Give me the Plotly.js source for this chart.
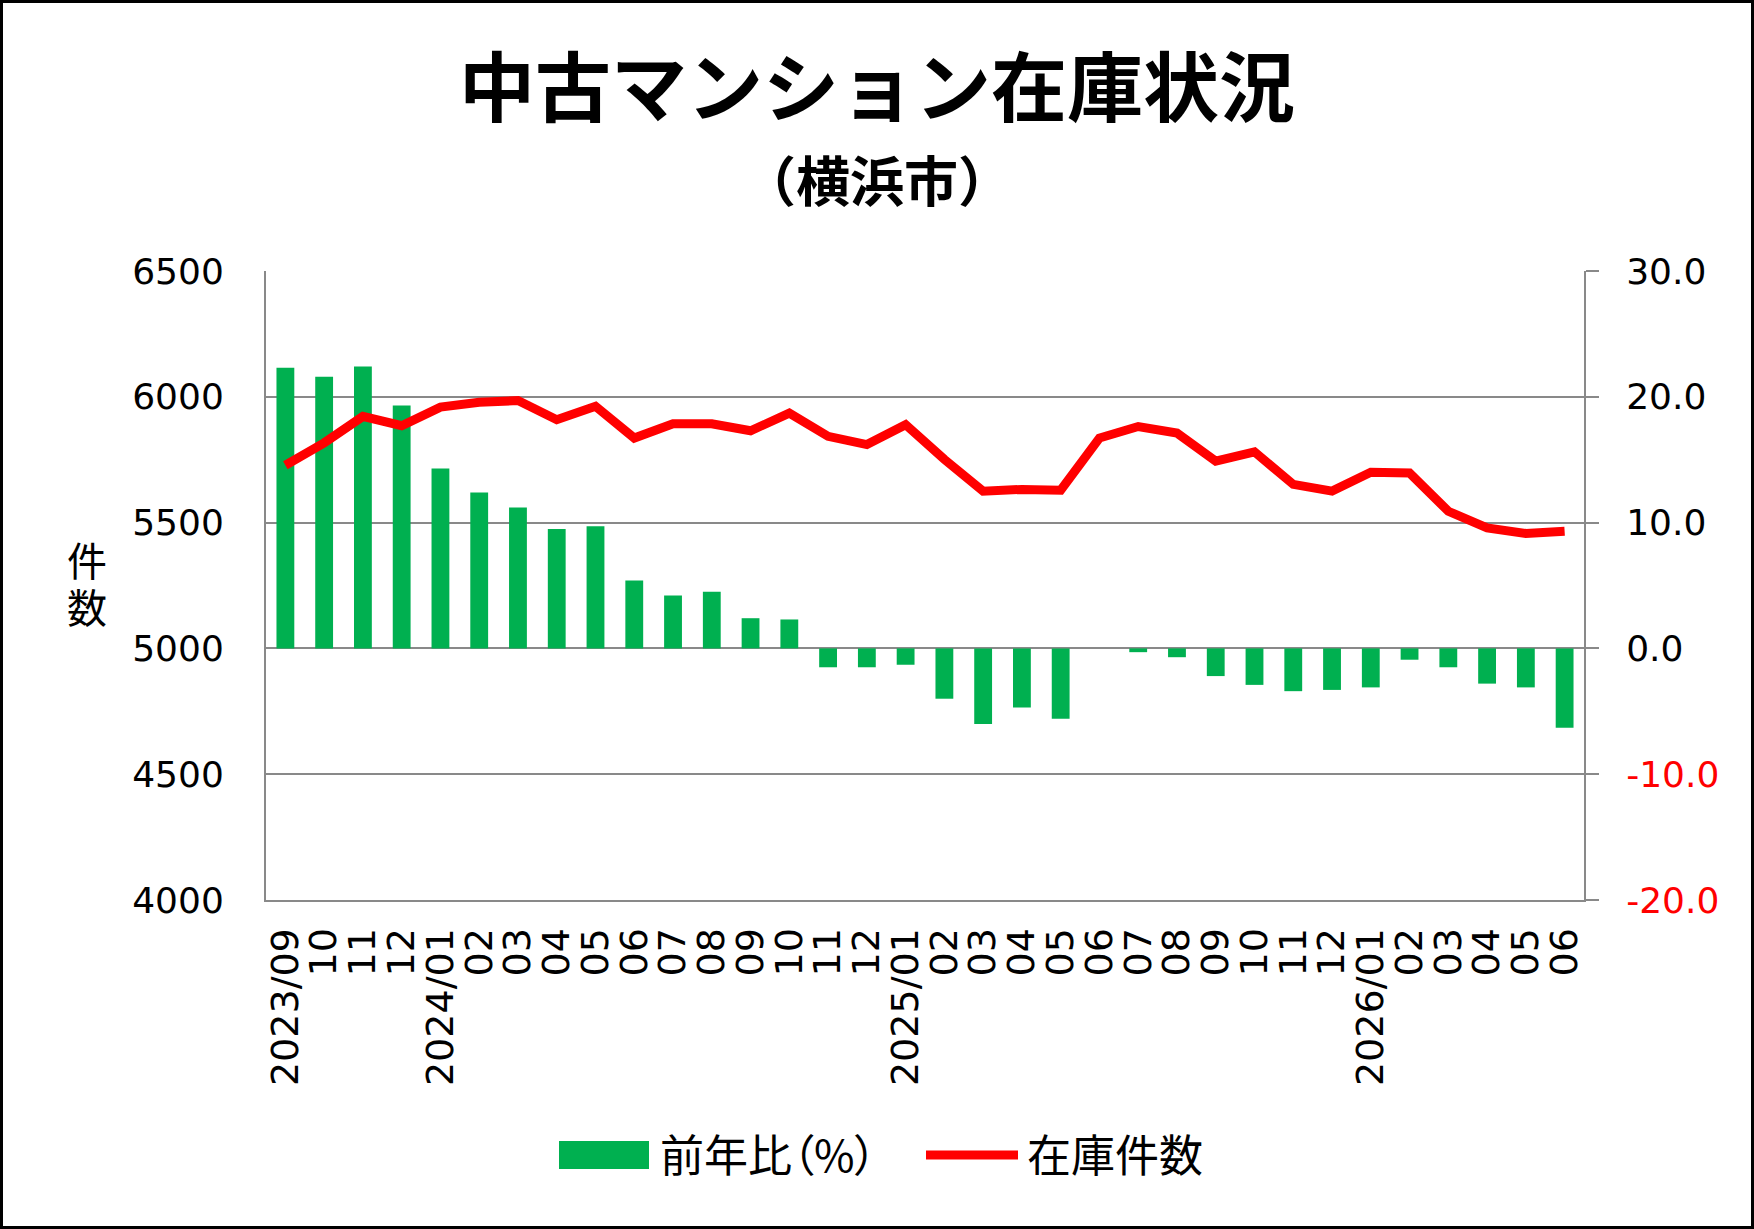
<!DOCTYPE html>
<html>
<head>
<meta charset="utf-8">
<script src="https://cdn.plot.ly/plotly-3.0.1.min.js"></script>
<style>
  body { margin: 0; background: #fff; }
  #chart { width: 1754px; height: 1229px; box-sizing: border-box; border: 3px solid #000; }
  /* proportional brackets in the bar legend label, as in the source */
  #chart .annotation[data-index="3"] text { font-feature-settings: "palt"; }
</style>
</head>
<body>
<div id="chart"></div>
<script>
const months = [
  "2023/09", "2023/10", "2023/11", "2023/12",
  "2024/01", "2024/02", "2024/03", "2024/04", "2024/05", "2024/06",
  "2024/07", "2024/08", "2024/09", "2024/10", "2024/11", "2024/12",
  "2025/01", "2025/02", "2025/03", "2025/04", "2025/05", "2025/06",
  "2025/07", "2025/08", "2025/09", "2025/10", "2025/11", "2025/12",
  "2026/01", "2026/02", "2026/03", "2026/04", "2026/05", "2026/06"
]
const tickLabels = [
  "2023/09", "10", "11", "12",
  "2024/01", "02", "03", "04", "05", "06",
  "07", "08", "09", "10", "11", "12",
  "2025/01", "02", "03", "04", "05", "06",
  "07", "08", "09", "10", "11", "12",
  "2026/01", "02", "03", "04", "05", "06"
]
// 前年比（%）
const yoyPct = [
  22.3, 21.6, 22.4, 19.3,
  14.3, 12.4, 11.2, 9.5, 9.7, 5.4,
  4.2, 4.5, 2.4, 2.3, -1.5, -1.5,
  -1.3, -4.0, -6.0, -4.7, -5.6, null,
  -0.3, -0.7, -2.2, -2.9, -3.4, -3.3,
  -3.1, -0.9, -1.5, -2.8, -3.1, -6.3
]
// 在庫件数
const stock = [
  5728, 5817, 5922, 5885,
  5959, 5978, 5985, 5909, 5962, 5836,
  5893, 5893, 5865, 5935, 5843, 5810,
  5889, 5751, 5625, 5632, 5629, 5836,
  5882, 5856, 5744, 5781, 5652, 5625,
  5700, 5697, 5545, 5479, 5457, 5466
]
const pctTicks = [-20, -10, 0, 10, 20, 30]
const countTicks = [4000, 4500, 5000, 5500, 6000, 6500]

const GREEN = "#00B050"
const RED = "#FF0000"
const GRID = "#898989"
const NUM_FONT = "DejaVu Sans, sans-serif"
const JP_FONT = "Noto Sans CJK JP, sans-serif"
// latin metrics first so the stacked axis title keeps a tight line box
const STACK_FONT = "Liberation Sans, Noto Sans CJK JP, sans-serif"

const pctText = pctTicks.map(v => v < 0
  ? '<span style="fill:' + RED + '">' + v.toFixed(1) + '</span>'
  : v.toFixed(1))

// plot area in div pixels, used to place the texts round it
const PL = 263, PR = 1581, PT = 268, PB = 897
const px = x => (x - PL) / (PR - PL)
const py = y => (PB - y) / (PB - PT)

const data = [
  {
    type: "bar",
    name: "前年比（%）",
    x: months,
    y: yoyPct,
    yaxis: "y",
    marker: { color: GREEN, line: { width: 0 } },
    hoverinfo: "x+y"
  },
  {
    type: "scatter",
    mode: "lines",
    name: "在庫件数",
    x: months,
    y: stock,
    yaxis: "y2",
    line: { color: RED, width: 9 },
    hoverinfo: "x+y"
  }
]

const layout = {
  width: 1748,
  height: 1223,
  margin: { l: PL, r: 1748 - PR, t: PT, b: 1223 - PB },
  paper_bgcolor: "#FFFFFF",
  plot_bgcolor: "#FFFFFF",
  showlegend: false,
  bargap: 0.54,
  font: { family: JP_FONT, color: "#000" },
  title: {
    text: "<b>中古マンション在庫状況</b>",
    font: { family: JP_FONT, size: 76, color: "#000" },
    x: 0.5,
    xref: "container",
    y: 1 - 86 / 1223,
    yref: "container",
    yanchor: "middle"
  },
  xaxis: {
    type: "category",
    tickvals: months,
    ticktext: tickLabels,
    tickangle: -90,
    range: [-0.5, months.length - 0.5],
    tickfont: { family: NUM_FONT, size: 38, color: "#000" },
    ticks: "",
    ticklabelstandoff: 11,
    showline: true,
    linecolor: GRID,
    linewidth: 2,
    showgrid: false,
    zeroline: false
  },
  // bars: right side scale
  yaxis: {
    side: "right",
    range: [-20, 30],
    tickvals: pctTicks,
    ticktext: pctText,
    tickfont: { family: NUM_FONT, size: 36, color: "#000" },
    ticks: "outside",
    ticklen: 13,
    tickwidth: 2,
    tickcolor: GRID,
    ticklabelstandoff: 20,
    showline: true,
    linecolor: GRID,
    linewidth: 2,
    showgrid: true,
    gridcolor: GRID,
    gridwidth: 2,
    zeroline: false
  },
  // line: left side scale, drawn on top of the bars
  yaxis2: {
    side: "left",
    overlaying: "y",
    range: [4000, 6500],
    tickvals: countTicks,
    tickfont: { family: NUM_FONT, size: 36, color: "#000" },
    ticks: "",
    ticklabelstandoff: 33,
    showline: true,
    linecolor: GRID,
    linewidth: 2,
    showgrid: false,
    zeroline: false
  },
  annotations: [
    {
      text: "<b>（横浜市）</b>",
      xref: "paper", yref: "paper",
      x: px(874), y: py(176),
      xanchor: "center", yanchor: "middle",
      showarrow: false,
      font: { family: JP_FONT, size: 54, color: "#000" }
    },
    {
      text: "件",
      xref: "paper", yref: "paper",
      x: px(84), y: py(559),
      xanchor: "center", yanchor: "middle",
      showarrow: false,
      borderpad: 0,
      font: { family: STACK_FONT, size: 40, color: "#000" }
    },
    {
      text: "数",
      xref: "paper", yref: "paper",
      x: px(84), y: py(606),
      xanchor: "center", yanchor: "middle",
      showarrow: false,
      borderpad: 0,
      font: { family: STACK_FONT, size: 40, color: "#000" }
    },
    {
      text: "前年比（%）",
      xref: "paper", yref: "paper",
      x: px(633), y: py(1150),
      xanchor: "left", yanchor: "middle",
      showarrow: false,
      font: { family: JP_FONT, size: 44, color: "#000" }
    },
    {
      text: "在庫件数",
      xref: "paper", yref: "paper",
      x: px(1022), y: py(1150),
      xanchor: "left", yanchor: "middle",
      showarrow: false,
      font: { family: JP_FONT, size: 44, color: "#000" }
    }
  ],
  shapes: [
    // legend keys
    {
      type: "rect",
      xref: "paper", yref: "paper",
      x0: px(556), x1: px(646),
      y0: py(1138), y1: py(1166),
      fillcolor: GREEN,
      line: { width: 0 }
    },
    {
      type: "line",
      xref: "paper", yref: "paper",
      x0: px(923), x1: px(1015),
      y0: py(1152), y1: py(1152),
      line: { color: RED, width: 9 }
    }
  ]
}

const config = { displayModeBar: false, responsive: false }

Plotly.newPlot("chart", data, layout, config)
</script>
</body>
</html>
